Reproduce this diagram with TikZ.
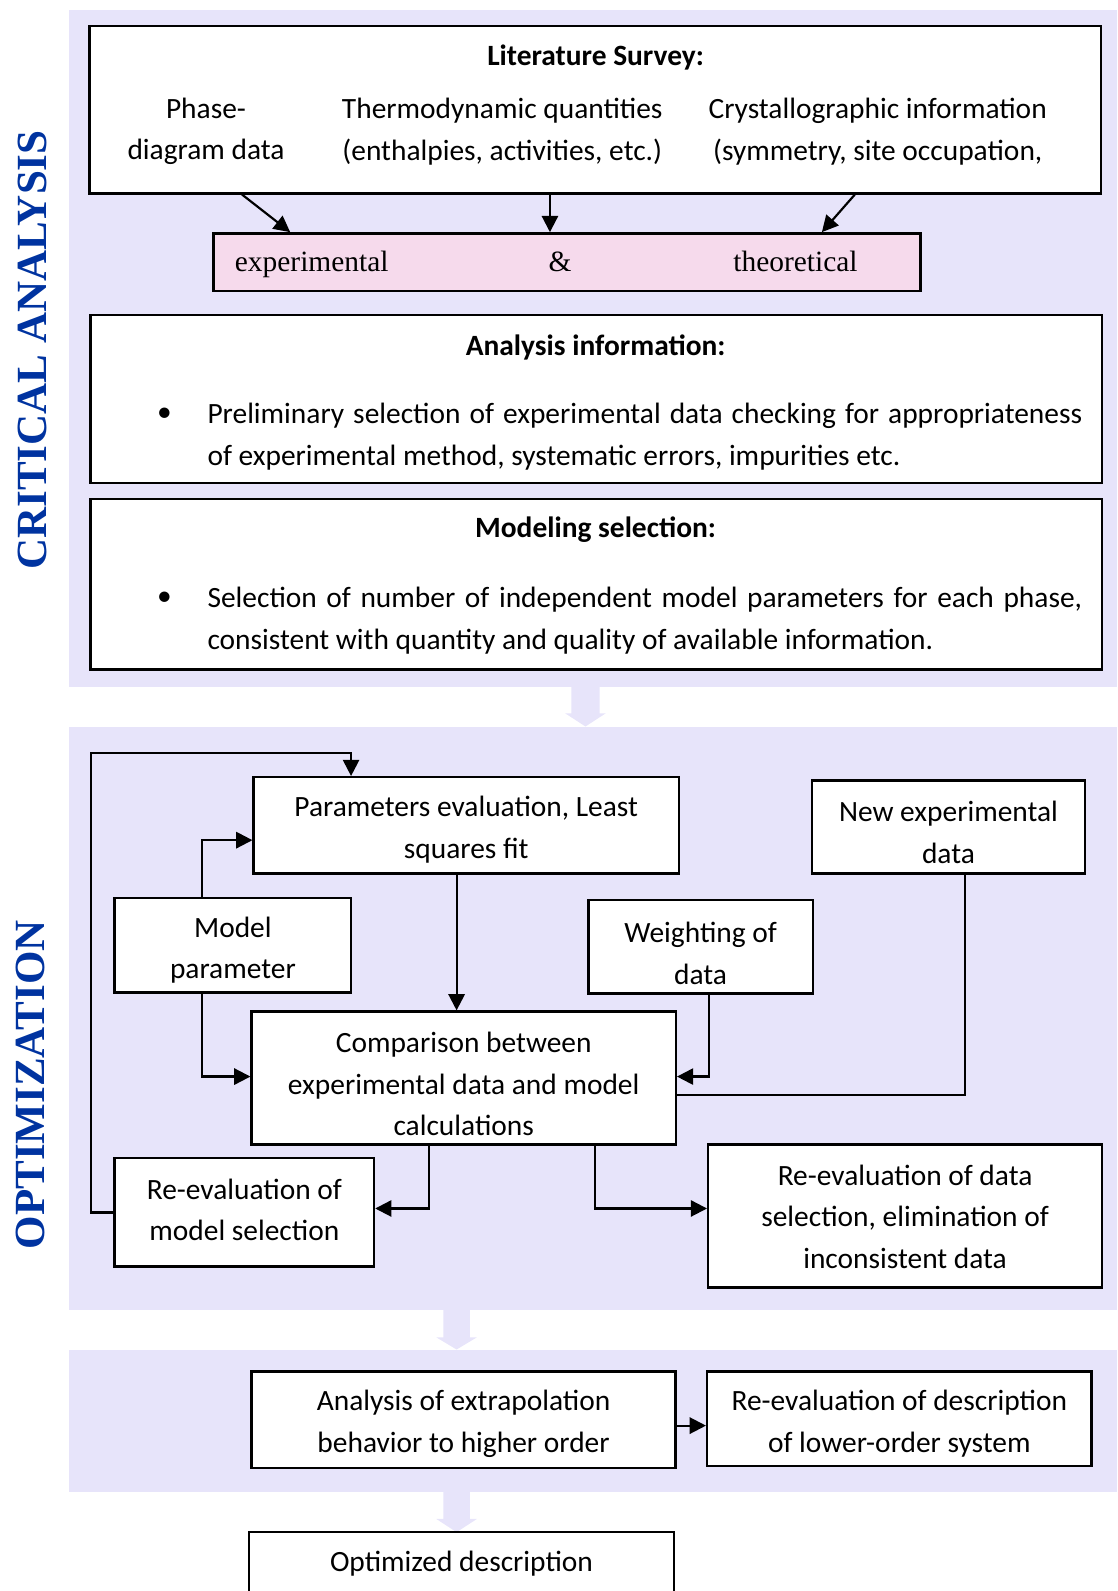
\documentclass[tikz,border=0pt]{standalone}
\usepackage{fontspec}
\setmainfont{Carlito}
\newfontfamily\serifface{Liberation Serif}
\usetikzlibrary{arrows.meta}

\definecolor{panelbg}{RGB}{231,228,250}
\definecolor{pinkbg}{RGB}{246,218,236}
\definecolor{labelblue}{RGB}{0,51,160}

\newcommand{\bodyfont}{\fontsize{21.75}{30.75}\selectfont}
\newcommand{\sidefont}{\serifface\bfseries\fontsize{31.8}{36}\selectfont}

\tikzset{every picture/.style={line width=0.75pt}}
\tikzset{
  box/.style={draw, line width=1.8pt, fill=white, inner sep=0pt},
  txt/.style={inner sep=0pt, align=center, font=\bodyfont},
  conn/.style={line width=1.6pt, -{Triangle[length=12pt,width=12pt]}},
  wire/.style={line width=1.6pt},
  sidelabel/.style={rotate=90, inner sep=0pt, text=labelblue, font=\sidefont},
}

\begin{document}
\begin{tikzpicture}[x=0.75pt,y=0.75pt,yscale=-1,xscale=1]
\useasboundingbox (0,0) rectangle (1101,1568);
\clip (0,0) rectangle (1101,1568);

% Panels
\fill[panelbg] (68,10) -- (1101,10) -- (1101,677) -- (68,677) -- cycle ;
\fill[panelbg] (68,716) -- (1101,716) -- (1101,1291) -- (68,1291) -- cycle ;
\fill[panelbg] (68,1330) -- (1101,1330) -- (1101,1470) -- (68,1470) -- cycle ;
% Block arrows
\fill[panelbg] (563,670) -- (591,670) -- (591,703) -- (597,703) -- (577,716) -- (557,703) -- (563,703) -- cycle ;
\fill[panelbg] (437,1285) -- (463,1285) -- (463,1318) -- (470,1318) -- (450,1330) -- (430,1318) -- (437,1318) -- cycle ;
\fill[panelbg] (437,1465) -- (463,1465) -- (463,1497) -- (470,1497) -- (450,1510) -- (430,1497) -- (437,1497) -- cycle ;

% Side labels
\node[sidelabel] (crit) at (32,345) {CRITICAL ANALYSIS};
\node[sidelabel] (optlab) at (30,1069) {OPTIMIZATION};

% Literature survey
\node[box, minimum width=747.75pt, minimum height=123.75pt] (lit) at (586.5,108) {};
% Text Node
\node[txt, font=\bodyfont\bfseries] (littitle) at (587,57) {Literature Survey:};
% Text Node
\node[txt] (phase) at (203,129.5) {Phase-\\diagram data};
% Text Node
\node[txt] (thermo) at (495,129.5) {Thermodynamic quantities\\(enthalpies, activities, etc.)};
% Text Node
\node[txt] (crystal) at (865,129.5) {Crystallographic information\\(symmetry, site occupation,};

% experimental & theoretical
\node[box, fill=pinkbg, minimum width=522.4pt, minimum height=42.4pt] (mix) at (558.75,258.25) {};
\node[txt, anchor=base west, font=\serifface\bodyfont] (exptxt) at (231,268) {experimental};
\node[txt, anchor=base, font=\serifface\bodyfont] (amp) at (552,268) {\&};
\node[txt, anchor=base, font=\serifface\bodyfont] (theotxt) at (784,268) {theoretical};

\draw[conn] (238.5,0 |- lit.south) -- (286,0 |- mix.north);
\draw[conn] (542,0 |- lit.south) -- (542,0 |- mix.north);
\draw[conn] (842.5,0 |- lit.south) -- (810,0 |- mix.north);

% Analysis information
\node[box, minimum width=747.75pt, minimum height=124pt] (anal) at (587.5,393.2) {};
% Text Node
\node[txt, font=\bodyfont\bfseries] (analtitle) at (587,342) {Analysis information:};
\node[txt] (analbul) at (162,409) {\textbullet};
% Text Node
\node[txt, anchor=west, text width=646.5pt, align=flush left] (analtxt) at (204,430.5) {\makebox[646.5pt][s]{Preliminary selection of experimental data checking for appropriateness}\\of experimental method, systematic errors, impurities etc.};

% Modeling selection
\node[box, minimum width=747.75pt, minimum height=126pt] (model) at (587.5,576) {};
% Text Node
\node[txt, font=\bodyfont\bfseries] (modtitle) at (587,522) {Modeling selection:};
\node[txt] (modbul) at (162,590) {\textbullet};
% Text Node
\node[txt, anchor=west, text width=646.5pt, align=flush left] (modtxt) at (204,611.5) {\makebox[646.5pt][s]{Selection of number of independent model parameters for each phase,}\\consistent with quantity and quality of available information.};

% Optimization loop
\node[box, minimum width=314.25pt, minimum height=71.25pt] (params) at (459.5,813.5) {};
\node[txt] (paramstxt) at (459.5,817.5) {Parameters evaluation, Least\\squares fit};
\node[box, minimum width=202.1pt, minimum height=69pt] (newexp) at (934.75,815) {};
\node[txt] (newexptxt) at (934.75,820.5) {New experimental\\data};
\node[box, minimum width=174.75pt, minimum height=69.75pt] (modpar) at (229.5,931.5) {};
\node[txt] (modpartxt) at (229.5,936.5) {Model\\parameter};
\node[box, minimum width=165.75pt, minimum height=69pt] (weight) at (690.5,933) {};
\node[txt] (weighttxt) at (690.5,939.5) {Weighting of\\data};
\node[box, minimum width=313.5pt, minimum height=98.25pt] (compare) at (457,1062.5) {};
\node[txt] (comparetxt) at (457,1068.5) {Comparison between\\experimental data and model\\calculations};
\node[box, minimum width=191.7pt, minimum height=80.25pt] (remodel) at (240.8,1194.5) {};
\node[txt] (remodeltxt) at (240.8,1192.5) {Re-evaluation of\\model selection};
\node[box, minimum width=291pt, minimum height=105.75pt] (redata) at (892,1198.5) {};
\node[txt] (redatatxt) at (892,1199) {Re-evaluation of data\\selection, elimination of\\inconsistent data};

\draw[conn] (199,0 |- modpar.north) |- (params.west |- 0,828);
\draw[conn] (199,0 |- modpar.south) |- (compare.west |- 0,1061);
\draw[conn] (450,0 |- params.south) -- (450,0 |- compare.north);
\draw[conn] (698.5,0 |- weight.south) |- (compare.east |- 0,1061);
\draw[wire] (951,0 |- newexp.south) |- (compare.east |- 0,1079);
\draw[conn] (422.5,0 |- compare.south) |- (remodel.east |- 0,1191);
\draw[conn] (586,0 |- compare.south) |- (redata.west |- 0,1191);
\draw[conn] (remodel.west |- 0,1195) -| (90,742) -| (346,0 |- params.north);

% Extrapolation
\node[box, minimum width=313.3pt, minimum height=71.6pt] (extrap) at (456.85,1399.25) {};
\node[txt] (extraptxt) at (456.85,1403) {Analysis of extrapolation\\behavior to higher order};
\node[box, minimum width=284pt, minimum height=70.1pt] (redesc) at (886.3,1398.25) {};
\node[txt] (redesctxt) at (886.3,1403) {Re-evaluation of description\\of lower-order system};
\draw[conn] (extrap.east |- 0,1405) -- (redesc.west |- 0,1405);

% Result
\node[box, minimum width=313.8pt, minimum height=45pt] (optim) at (454.8,1540) {};
\node[txt] (optimtxt) at (454.8,1541) {Optimized description};

\end{tikzpicture}
\end{document}
